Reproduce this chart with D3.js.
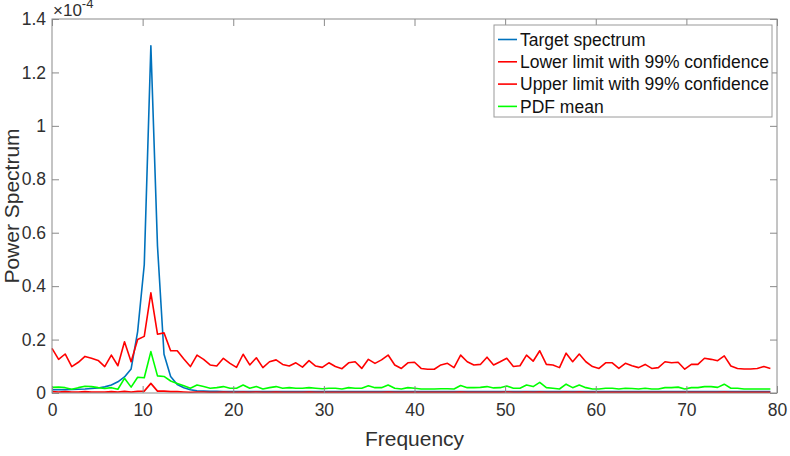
<!DOCTYPE html>
<html>
<head>
<meta charset="utf-8">
<script src="https://cdn.jsdelivr.net/npm/d3@7"></script>
<style>
  body { margin: 0; background: #fff; }
  svg { font-family: "Liberation Sans", Arial, sans-serif; }
</style>
</head>
<body>
<div id="chart"></div>
<script>
// power spectrum vs. the 99% confidence band (values in units of 1e-5)

var frequency = [0.00,0.73,1.45,2.18,2.91,3.64,4.36,5.09,5.82,6.55,7.27,8.00,8.73,9.45,10.18,10.91,11.64,12.36,13.09,13.82,
  14.55,15.27,16.00,16.73,17.45,18.18,18.91,19.64,20.36,21.09,21.82,22.55,23.27,24.00,24.73,25.45,26.18,26.91,27.64,28.36,
  29.09,29.82,30.55,31.27,32.00,32.73,33.45,34.18,34.91,35.64,36.36,37.09,37.82,38.55,39.27,40.00,40.73,41.45,42.18,42.91,
  43.64,44.36,45.09,45.82,46.55,47.27,48.00,48.73,49.45,50.18,50.91,51.64,52.36,53.09,53.82,54.55,55.27,56.00,56.73,57.45,
  58.18,58.91,59.64,60.36,61.09,61.82,62.55,63.27,64.00,64.73,65.45,66.18,66.91,67.64,68.36,69.09,69.82,70.55,71.27,72.00,
  72.73,73.45,74.18,74.91,75.64,76.36,77.09,77.82,78.55,79.27];

var targetSpectrum = [0.12,0.12,0.12,0.13,0.14,0.15,0.17,0.19,0.23,0.30,0.42,0.60,0.90,2.30,4.80,13.00,5.50,1.45,0.62,0.32,
  0.20,0.12,0.08,0.07,0.06,0.06,0.05,0.05,0.05,0.05,0.05,0.05,0.05,0.05,0.05,0.05,0.05,0.05,0.05,0.05,
  0.05,0.05,0.05,0.05,0.05,0.05,0.05,0.05,0.05,0.05,0.05,0.05,0.05,0.05,0.05,0.05,0.05,0.05,0.05,0.05,
  0.05,0.05,0.05,0.05,0.05,0.05,0.05,0.05,0.05,0.05,0.05,0.05,0.05,0.05,0.05,0.05,0.05,0.05,0.05,0.05,
  0.05,0.05,0.05,0.05,0.05,0.05,0.05,0.05,0.05,0.05,0.05,0.05,0.05,0.05,0.05,0.05,0.05,0.05,0.05,0.05,
  0.05,0.05,0.05,0.05,0.05,0.05,0.05,0.05,0.05,0.05];

var lowerLimit = [0.05,0.04,0.05,0.04,0.04,0.05,0.04,0.04,0.04,0.05,0.04,0.06,0.04,0.06,0.07,0.36,0.07,0.07,0.05,0.05,
  0.04,0.03,0.04,0.04,0.03,0.03,0.04,0.03,0.03,0.04,0.03,0.04,0.03,0.03,0.04,0.03,0.03,0.03,0.03,0.04,
  0.03,0.03,0.03,0.03,0.03,0.03,0.03,0.03,0.03,0.03,0.03,0.04,0.03,0.03,0.03,0.03,0.03,0.03,0.03,0.03,
  0.03,0.03,0.04,0.03,0.03,0.03,0.03,0.03,0.03,0.04,0.03,0.03,0.04,0.03,0.04,0.03,0.03,0.03,0.04,0.03,
  0.04,0.03,0.03,0.03,0.03,0.03,0.03,0.03,0.03,0.03,0.03,0.03,0.03,0.03,0.03,0.03,0.03,0.03,0.03,0.03,
  0.03,0.03,0.04,0.03,0.03,0.03,0.03,0.03,0.03,0.03];

var upperLimit = [1.67,1.26,1.46,0.99,1.15,1.37,1.30,1.22,0.99,1.42,1.02,1.92,1.17,2.00,2.12,3.75,2.20,2.25,1.58,1.58,
  1.27,0.99,1.42,1.26,1.05,1.01,1.30,1.11,0.96,1.45,1.05,1.32,0.95,1.17,1.24,1.07,1.01,1.13,0.97,1.21,
  1.01,0.96,1.13,0.99,0.91,1.13,1.17,0.92,1.26,1.11,1.24,1.42,1.05,0.92,1.13,1.15,0.92,0.89,0.89,1.05,
  1.11,0.95,1.42,1.17,1.05,1.07,1.34,1.05,1.17,1.30,0.99,1.02,1.42,1.19,1.58,1.07,1.05,0.95,1.49,1.17,
  1.46,1.17,0.99,0.92,1.13,1.13,0.92,1.11,1.02,0.95,1.07,0.92,0.95,1.17,1.13,1.15,0.89,1.07,1.07,1.30,
  1.26,1.21,1.39,1.01,0.92,0.90,0.90,0.92,0.99,0.92];

var pdfMean = [0.21,0.22,0.20,0.14,0.20,0.25,0.24,0.20,0.17,0.20,0.14,0.55,0.22,0.59,0.57,1.55,0.64,0.62,0.45,0.36,
  0.27,0.18,0.30,0.24,0.18,0.20,0.24,0.18,0.18,0.30,0.18,0.24,0.15,0.20,0.24,0.18,0.20,0.18,0.18,0.20,
  0.18,0.16,0.18,0.18,0.15,0.20,0.18,0.18,0.27,0.20,0.20,0.30,0.18,0.15,0.20,0.18,0.15,0.15,0.15,0.16,
  0.16,0.15,0.28,0.20,0.20,0.21,0.24,0.19,0.20,0.26,0.18,0.18,0.30,0.24,0.40,0.20,0.18,0.15,0.33,0.20,
  0.30,0.20,0.15,0.15,0.18,0.18,0.15,0.18,0.17,0.15,0.18,0.15,0.15,0.20,0.20,0.22,0.15,0.20,0.20,0.24,
  0.24,0.21,0.33,0.18,0.18,0.15,0.15,0.15,0.15,0.15];

var xTicks = [0,10,20,30,40,50,60,70,80];
var yTicks = [0,0.2,0.4,0.6,0.8,1,1.2,1.4];   // in units of 1e-4

var seriesNames = ['Target spectrum','Lower limit with 99% confidence','Upper limit with 99% confidence','PDF mean'];
var seriesData = [targetSpectrum, lowerLimit, upperLimit, pdfMean];
var seriesColors = ['#0072BD','#FF0000','#FF0000','#00FF00'];

var W = 790, H = 456;
var plot = {left: 52, right: 777, top: 19, bottom: 393};
var axisColor = '#8a8a8a', textColor = '#303030';

var svg = d3.select('#chart').append('svg')
    .attr('width', W)
    .attr('height', H)

var x = d3.scaleLinear().domain([0, 80]).range([plot.left, plot.right])
var y = d3.scaleLinear().domain([0, 1.4e-4]).range([plot.bottom, plot.top])

var line = d3.line().x(d => x(d[0])).y(d => y(d[1] * 1e-5))

// series, drawn in plotting order
seriesData.forEach(function(vals, i){
    svg.append('path')
        .attr('d', line(frequency.map((f, j) => [f, vals[j]])))
        .attr('fill', 'none')
        .attr('stroke', seriesColors[i])
        .attr('stroke-width', 1.6)
        .attr('stroke-linejoin', 'round')
})

function styleAxis(g){
    g.select('.domain').remove()
    g.selectAll('line').attr('stroke', axisColor)
    g.selectAll('text').attr('fill', textColor).style('font-size', '17.5px')
}

svg.append('g')
    .attr('transform', 'translate(0,' + plot.bottom + ')')
    .call(d3.axisBottom(x).tickValues(xTicks).tickSize(-7).tickPadding(11).tickFormat(d => d))
    .call(styleAxis)

svg.append('g')
    .attr('transform', 'translate(0,' + plot.top + ')')
    .call(d3.axisTop(x).tickValues(xTicks).tickSize(-7).tickFormat(''))
    .call(styleAxis)

svg.append('g')
    .attr('transform', 'translate(' + plot.left + ',0)')
    .call(d3.axisLeft(y).tickValues(yTicks.map(v => v * 1e-4)).tickSize(-7).tickPadding(6)
        .tickFormat(d => String(+(d / 1e-4).toFixed(1))))
    .call(styleAxis)

svg.append('g')
    .attr('transform', 'translate(' + plot.right + ',0)')
    .call(d3.axisRight(y).tickValues(yTicks.map(v => v * 1e-4)).tickSize(-7).tickFormat(''))
    .call(styleAxis)

// axes box
svg.append('rect')
    .attr('x', plot.left)
    .attr('y', plot.top)
    .attr('width', plot.right - plot.left)
    .attr('height', plot.bottom - plot.top)
    .attr('fill', 'none')
    .attr('stroke', axisColor)
    .attr('stroke-width', 1)

// exponent label
var expo = svg.append('text')
    .attr('x', 53)
    .attr('y', 16)
    .attr('fill', textColor)
    .style('font-size', '17px')
expo.append('tspan').text('\u00d710')
expo.append('tspan').attr('dy', -8).style('font-size', '13px').text('-4')

// axis labels
svg.append('text')
    .attr('x', (plot.left + plot.right) / 2)
    .attr('y', 446)
    .attr('text-anchor', 'middle')
    .attr('fill', textColor)
    .style('font-size', '21px')
    .text('Frequency')

svg.append('g')
    .attr('transform', 'translate(19,' + ((plot.top + plot.bottom) / 2) + ') rotate(-90)')
    .append('text')
    .attr('text-anchor', 'middle')
    .attr('fill', textColor)
    .style('font-size', '21px')
    .text('Power Spectrum')

// legend
var legend = svg.append('g').attr('transform', 'translate(494,25)')

legend.append('rect')
    .attr('width', 278)
    .attr('height', 92)
    .attr('fill', '#fff')
    .attr('stroke', '#9a9a9a')

seriesNames.forEach(function(name, i){
    var ly = 14.5 + i * 22.3
    legend.append('line')
        .attr('x1', 4).attr('x2', 23)
        .attr('y1', ly).attr('y2', ly)
        .attr('stroke', seriesColors[i])
        .attr('stroke-width', 1.6)
    legend.append('text')
        .attr('x', 26)
        .attr('y', ly)
        .attr('dy', '0.35em')
        .attr('fill', '#111')
        .style('font-size', '17.5px')
        .text(name)
})
</script>
</body>
</html>
